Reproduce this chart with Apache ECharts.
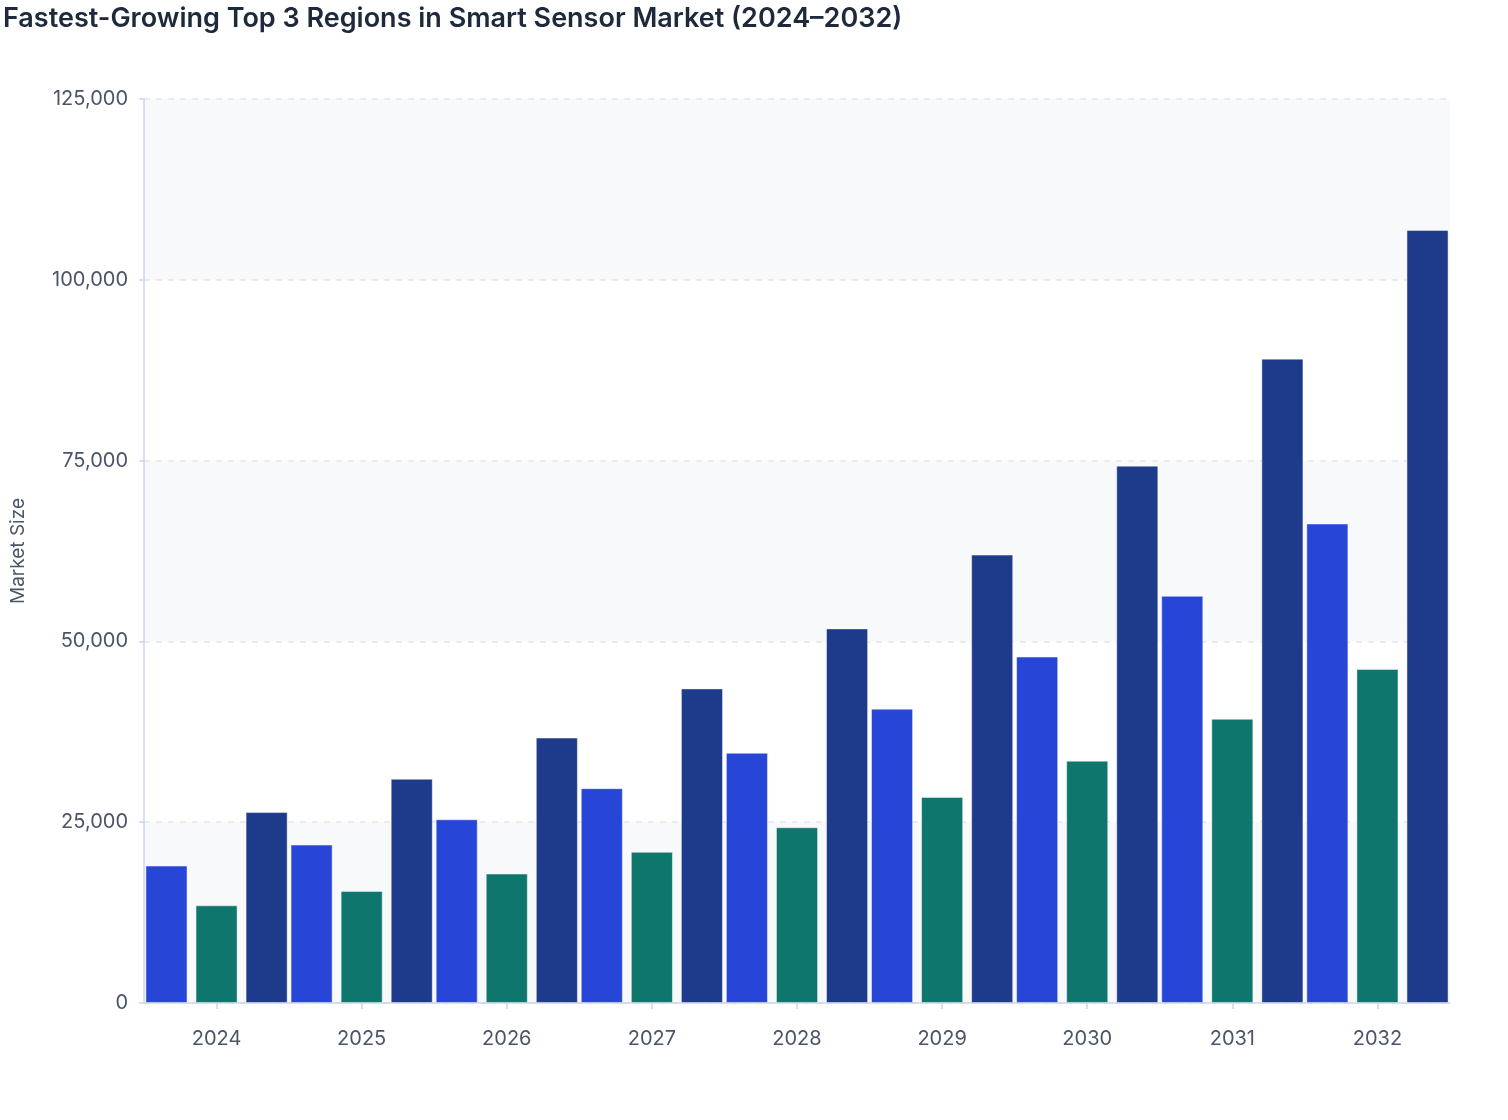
<!DOCTYPE html>
<html>
<head>
<meta charset="utf-8">
<script src="https://cdn.jsdelivr.net/npm/echarts@6/dist/echarts.min.js"></script>
<style>
  html, body { margin: 0; padding: 0; background: #ffffff; }
  #chart { width: 1508px; height: 1120px; }
</style>
</head>
<body>
<div id="chart"></div>
<script>
const years = ['2024', '2025', '2026', '2027', '2028', '2029', '2030', '2031', '2032'];
const regionBlue = [19000, 21900, 25400, 29700, 34600, 40700, 47900, 56300, 66300];
const regionTeal = [13500, 15500, 17900, 20900, 24300, 28500, 33500, 39300, 46200];
const regionNavy = [26400, 31000, 36700, 43500, 51800, 62000, 74300, 89100, 106900];
const seriesNames = ['Region A', 'Region B', 'Region C'];
const yTicks = [0, 25000, 50000, 75000, 100000, 125000];

const chart = echarts.init(document.getElementById('chart'), null, { renderer: 'canvas' });
const font = 'Inter, "Noto Sans", sans-serif';
const colors = ['#2746d8', '#0f766e', '#1e3a8a'];
const barStyle = (c) => ({ color: c, borderColor: 'rgba(255,255,255,0.45)', borderWidth: 1 });

chart.setOption({
  animation: false,
  backgroundColor: '#ffffff',
  title: {
    text: 'Fastest-Growing Top 3 Regions in Smart Sensor Market (2024\u20132032)',
    left: -2, top: 0,
    textStyle: { fontFamily: font, fontSize: 27, fontWeight: 600, color: '#1e293b' }
  },
  grid: { left: 144, right: 58, top: 99, bottom: 117, containLabel: false },
  xAxis: {
    type: 'category',
    data: years,
    boundaryGap: true,
    axisLine: { show: true, lineStyle: { color: '#cbd5f0', width: 1.5 } },
    axisTick: { show: true, alignWithLabel: true, length: 6, lineStyle: { color: '#cbd5f0', width: 1.5 } },
    axisLabel: { fontFamily: font, fontSize: 20, color: '#4a5568', margin: 26 },
    splitLine: { show: false }
  },
  yAxis: {
    type: 'value',
    min: yTicks[0],
    max: yTicks[yTicks.length - 1],
    interval: 25000,
    name: 'Market Size',
    nameLocation: 'middle',
    nameGap: 116,
    nameRotate: 90,
    nameTextStyle: { fontFamily: font, fontSize: 19, color: '#4a5568' },
    axisLine: { show: true, lineStyle: { color: '#cbd5f0', width: 1.5 } },
    axisTick: { show: true, length: 5, lineStyle: { color: '#cbd5f0', width: 1.5 } },
    axisLabel: {
      fontFamily: font, fontSize: 20, color: '#4a5568', margin: 16,
      formatter: (v) => v.toLocaleString('en-US')
    },
    splitLine: { show: true, lineStyle: { color: '#e3e5ec', width: 1.5, type: [6, 6] } },
    splitArea: { show: true, areaStyle: { color: ['#f8f9fb', 'rgba(255,255,255,0)'] } }
  },
  series: [
    { name: seriesNames[0], type: 'bar', data: regionBlue, itemStyle: barStyle(colors[0]), barGap: '19%', barCategoryGap: '2%' },
    { name: seriesNames[1], type: 'bar', data: regionTeal, itemStyle: barStyle(colors[1]), barGap: '19%', barCategoryGap: '2%' },
    { name: seriesNames[2], type: 'bar', data: regionNavy, itemStyle: barStyle(colors[2]), barGap: '19%', barCategoryGap: '2%' }
  ]
});
</script>
</body>
</html>
